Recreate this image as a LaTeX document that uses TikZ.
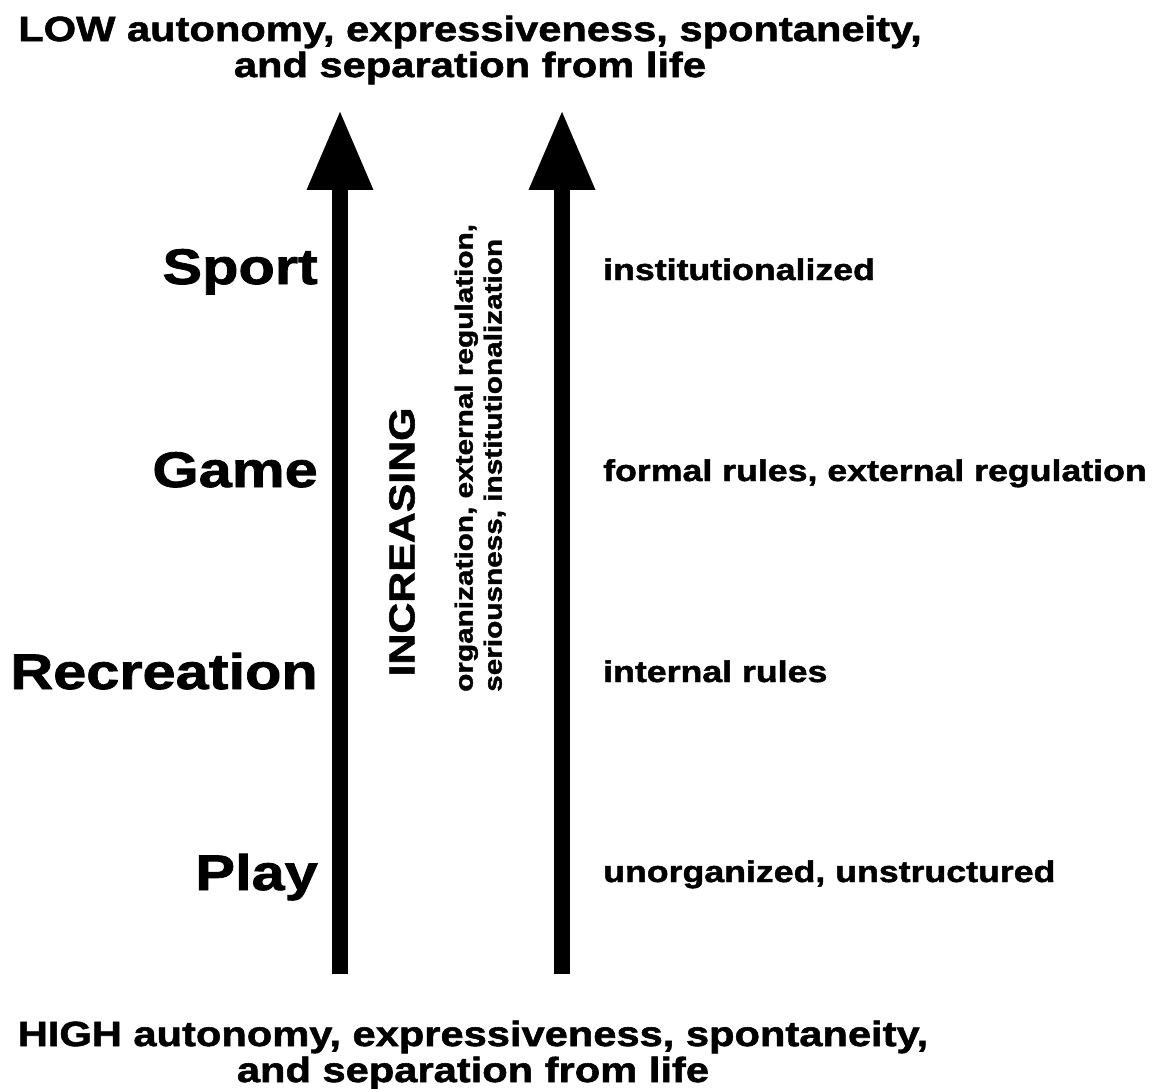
\documentclass[tikz,border=0pt]{standalone}
\usepackage{fontspec}
\setmainfont{Liberation Sans}[BoldFeatures={FakeStretch=1.19, FakeBold=1.6}]
\usetikzlibrary{arrows.meta}

\begin{document}
\begin{tikzpicture}[
    x=1pt, y=-1pt,
    >={Triangle[length=80pt, width=62pt]},
    level/.style={anchor=base east, inner sep=0pt,
        font=\fontsize{50}{50}\selectfont\bfseries},
    trait/.style={anchor=base west, inner sep=0pt,
        font=\fontsize{30}{30}\selectfont\bfseries},
    pole/.style={align=center, inner sep=0pt,
        font=\fontsize{35}{36}\selectfont\bfseries},
    axis/.style={->, line width=16pt}
]
\useasboundingbox (0,0) rectangle (1171,1089);

\node[pole] (low) at (470,50) {LOW autonomy, expressiveness, spontaneity,\\and separation from life};
\node[pole] (high) at (473,1055) {HIGH autonomy, expressiveness, spontaneity,\\and separation from life};

\coordinate (baseL) at (340,974);
\coordinate (tipL) at (340,110);
\coordinate (baseR) at (562,974);
\coordinate (tipR) at (562,110);
\draw[axis] (baseL) -- (tipL);
\draw[axis] (baseR) -- (tipR);

\node[level] (sport) at (318,284) {Sport};
\node[level] (game) at (318,487) {Game};
\node[level] (recreation) at (318,689) {Recreation};
\node[level] (play) at (318,890) {Play};

\node[trait] (inst) at (603,280) {institutionalized};
\node[trait] (formal) at (603,481) {formal rules, external regulation};
\node[trait] (internal) at (603,682) {internal rules};
\node[trait] (unorg) at (603,882) {unorganized, unstructured};

\node[rotate=90, inner sep=0pt, font=\fontsize{36}{36}\selectfont\bfseries]
    (increasing) at (402,542) {INCREASING};
\node[rotate=90, anchor=west, align=left, inner sep=0pt,
    font=\fontsize{25}{29}\selectfont\bfseries]
    (aspects) at (480,692) {organization, external regulation,\\seriousness, institutionalization};

\end{tikzpicture}
\end{document}
